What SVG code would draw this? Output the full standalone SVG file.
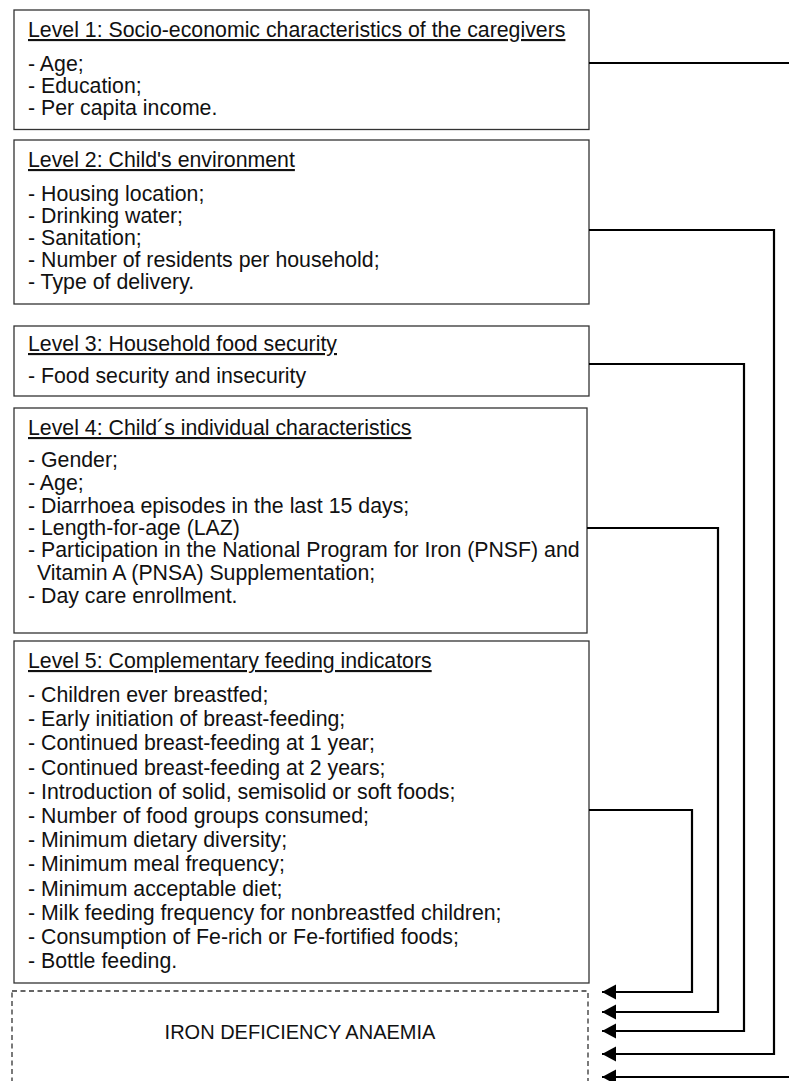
<svg xmlns="http://www.w3.org/2000/svg" width="789" height="1081" viewBox="0 0 789 1081">
<style>
.box{fill:#fff;stroke:#333;stroke-width:1.3}
.dash{fill:#fff;stroke:#333;stroke-width:1.3;stroke-dasharray:5 3.5}
text{font-family:"Liberation Sans",Arial,sans-serif;font-size:21.3px;fill:#111}
.t{text-decoration:underline}
.o{font-size:20px}
.c{fill:none;stroke:#000;stroke-width:2.2}
</style>
<defs>
<marker id="ah" markerUnits="userSpaceOnUse" markerWidth="15" markerHeight="16" refX="14" refY="7.5" orient="auto" viewBox="0 0 15 16">
<path d="M0,0 L14,7.5 L0,15 z" fill="#000"/>
</marker>
</defs>
<rect width="789" height="1081" fill="#fff"/>
<g id="level1">
<rect class="box" x="14" y="10" width="575" height="119.5"/>
<text x="28" y="37" class="t">Level 1: Socio-economic characteristics of the caregivers</text>
<text x="28" y="71">- Age;</text>
<text x="28" y="93">- Education;</text>
<text x="28" y="115">- Per capita income.</text>
</g>
<g id="level2">
<rect class="box" x="14" y="140" width="575" height="164"/>
<text x="28" y="167" class="t">Level 2: Child's environment</text>
<text x="28" y="201">- Housing location;</text>
<text x="28" y="223">- Drinking water;</text>
<text x="28" y="245">- Sanitation;</text>
<text x="28" y="267">- Number of residents per household;</text>
<text x="28" y="289">- Type of delivery.</text>
</g>
<g id="level3">
<rect class="box" x="14" y="326" width="575" height="70"/>
<text x="28" y="351" class="t">Level 3: Household food security</text>
<text x="28" y="383">- Food security and insecurity</text>
</g>
<g id="level4">
<rect class="box" x="14" y="408" width="573" height="225"/>
<text x="28" y="435" class="t">Level 4: Child´s individual characteristics</text>
<text x="28" y="467">- Gender;</text>
<text x="28" y="490">- Age;</text>
<text x="28" y="513">- Diarrhoea episodes in the last 15 days;</text>
<text x="28" y="535">- Length-for-age (LAZ)</text>
<text x="28" y="557">- Participation in the National Program for Iron (PNSF) and</text>
<text x="37" y="580">Vitamin A (PNSA) Supplementation;</text>
<text x="28" y="603">- Day care enrollment.</text>
</g>
<g id="level5">
<rect class="box" x="14" y="641" width="575" height="342"/>
<text x="28" y="668" class="t">Level 5: Complementary feeding indicators</text>
<text x="28" y="702">- Children ever breastfed;</text>
<text x="28" y="726.2">- Early initiation of breast-feeding;</text>
<text x="28" y="750.4">- Continued breast-feeding at 1 year;</text>
<text x="28" y="774.6">- Continued breast-feeding at 2 years;</text>
<text x="28" y="798.8">- Introduction of solid, semisolid or soft foods;</text>
<text x="28" y="823">- Number of food groups consumed;</text>
<text x="28" y="847.2">- Minimum dietary diversity;</text>
<text x="28" y="871.4">- Minimum meal frequency;</text>
<text x="28" y="895.6">- Minimum acceptable diet;</text>
<text x="28" y="919.8">- Milk feeding frequency for nonbreastfed children;</text>
<text x="28" y="944">- Consumption of Fe-rich or Fe-fortified foods;</text>
<text x="28" y="968">- Bottle feeding.</text>
</g>
<g id="outcome">
<rect class="dash" x="12" y="991" width="576" height="120"/>
<text x="300" y="1039" text-anchor="middle" class="o">IRON DEFICIENCY ANAEMIA</text>
</g>
<g id="connectors">
<polyline class="c" points="589,63 800,63 800,1077 602,1077" marker-end="url(#ah)"/>
<polyline class="c" points="589,230 774,230 774,1054 602,1054" marker-end="url(#ah)"/>
<polyline class="c" points="589,364 744,364 744,1031 602,1031" marker-end="url(#ah)"/>
<polyline class="c" points="587,528 718,528 718,1012 602,1012" marker-end="url(#ah)"/>
<polyline class="c" points="589,810 692,810 692,992 602,992" marker-end="url(#ah)"/>
</g>
</svg>
